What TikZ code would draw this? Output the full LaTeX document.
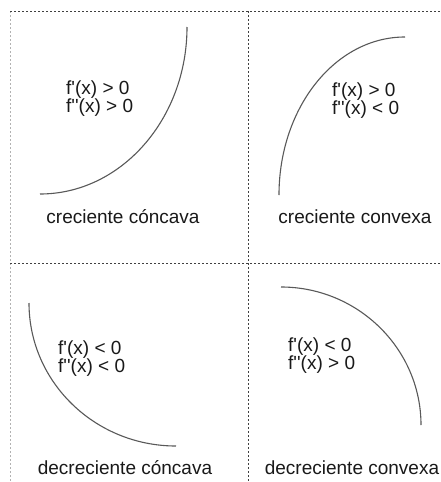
\documentclass[tikz,border=0pt]{standalone}
\usepackage{fontspec}
\setmainfont{Liberation Sans}
\newcommand{\pr}{\textquotesingle}
\begin{document}
\begin{tikzpicture}[x=1pt,y=-1pt,
  txt/.style={anchor=base west,inner sep=0pt,align=left,font=\fontsize{19}{18.5}\selectfont,text=black!90},
  lbl/.style={anchor=base,inner sep=0pt,font=\fontsize{19}{22}\selectfont,text=black!90},
  curve/.style={draw=black!65,line width=1.1pt},
  darkdash/.style={draw=black!75,line width=0.9pt,dash pattern=on 2pt off 2pt},
  lightdash/.style={draw=black!30,line width=0.9pt,dash pattern=on 2pt off 2pt}]
\useasboundingbox (0,0) rectangle (441,482);
\fill[white] (0,0) rectangle (441,482);
% grid lines
\coordinate (tl) at (10,11);
\coordinate (tr) at (441,11);
\coordinate (bl) at (10,482);
\coordinate (mt) at (248,11);
\coordinate (mb) at (248,482);
\coordinate (ml) at (10,263);
\coordinate (mr) at (441,263);
\draw[lightdash] (tl) -- (bl);
\draw[darkdash] (tl) -- (tr);
\draw[darkdash] (ml) -- (mr);
\draw[darkdash] (mt) -- (mb);
% curves
\draw[curve] (40,194) .. controls (121,194) and (187,119) .. (187,27);
\draw[curve] (279,195) .. controls (279,108) and (335,37) .. (405,37);
\draw[curve] (29,303) .. controls (29,382) and (95,446) .. (176,446);
\draw[curve] (281,287) .. controls (358,287) and (421,349) .. (421,425);
% texts (anchor at baseline of the last line)
\node[txt] (a) at (66,112.5) {f\pr(x) > 0\\f\pr\pr(x) > 0};
\node[txt] (b) at (332,114.5) {f\pr(x) > 0\\f\pr\pr(x) < 0};
\node[txt] (c) at (58,372.5) {f\pr(x) < 0\\f\pr\pr(x) < 0};
\node[txt] (d) at (288,369.5) {f\pr(x) < 0\\f\pr\pr(x) > 0};
\node[lbl] (la) at (123,223) {creciente cóncava};
\node[lbl] (lb) at (355,223) {creciente convexa};
\node[lbl] (lc) at (125,474) {decreciente cóncava};
\node[lbl] (ld) at (352,474) {decreciente convexa};
\end{tikzpicture}
\end{document}
